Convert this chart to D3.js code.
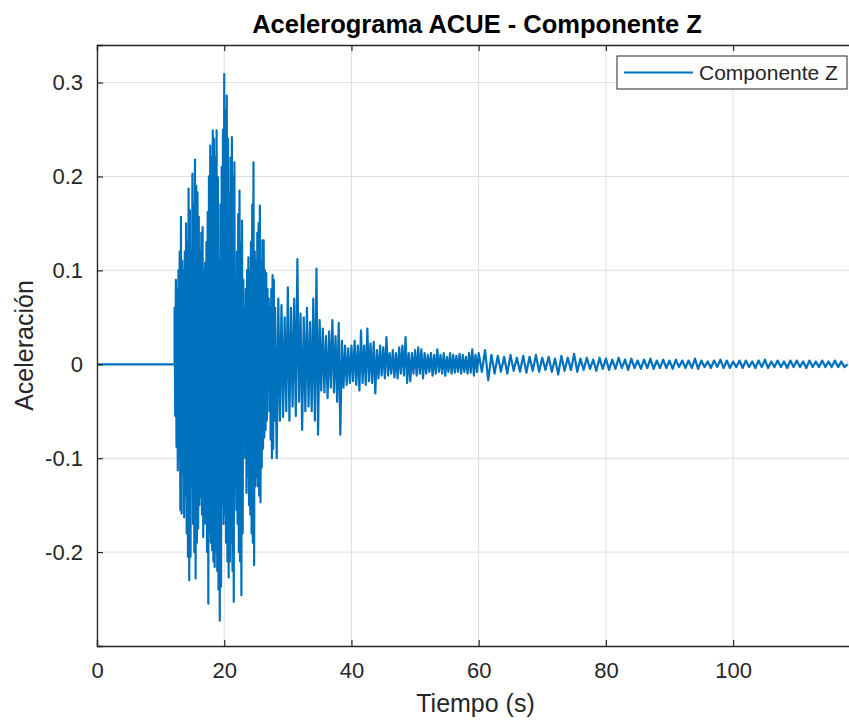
<!DOCTYPE html>
<html>
<head>
<meta charset="utf-8">
<script src="https://cdn.jsdelivr.net/npm/d3@7"></script>
<style>
  html, body { margin: 0; padding: 0; background: #fff; }
  svg { display: block; font-family: "Liberation Sans", Arial, Helvetica, sans-serif; }
</style>
</head>
<body>
<svg id="chart" width="849" height="722"></svg>
<script>
// ---------------- DATA ----------------
const titleText = "Acelerograma ACUE - Componente Z";
const xLabelText = "Tiempo (s)";
const yLabelText = "Aceleración";
const legendLabel = "Componente Z";

const xTicks = [0, 20, 40, 60, 80, 100];
const yTicks = [-0.2, -0.1, 0, 0.1, 0.2, 0.3];
const yTickLabels = ["-0.2", "-0.1", "0", "0.1", "0.2", "0.3"];

// pre-event (quiet) part
const preEventTimes = [0, 12.2];
const preEventValues = [0, 0];

// strong motion: positive peaks at start + i*step, negative peaks half a step later
const strongStart = 12.2, strongStep = 0.2;
const strongUpper = [0.06,0.09,0.08,0.10,0.12,0.157,0.11,0.10,0.12,0.15,0.13,0.187,0.164,0.12,0.203,0.17,0.218,0.19,0.183,0.157,
  0.12,0.14,0.146,0.10,0.108,0.13,0.162,0.20,0.233,0.22,0.249,0.24,0.22,0.249,0.199,0.11,0.17,0.21,0.25,0.309,
  0.27,0.286,0.24,0.182,0.22,0.242,0.20,0.215,0.06,0.12,0.16,0.185,0.13,0.153,0.09,0.06,0.08,0.10,0.114,0.10,
  0.13,0.17,0.215,0.12,0.11,0.14,0.15,0.169,0.11,0.132,0.132,0.10,0.097,0.08,0.07,0.06,0.08,0.095,0.09];
const strongLower = [-0.055,-0.088,-0.113,-0.10,-0.155,-0.159,-0.116,-0.163,-0.14,-0.18,-0.205,-0.23,-0.205,-0.131,-0.17,-0.20,-0.228,-0.19,-0.175,-0.15,
  -0.141,-0.16,-0.184,-0.17,-0.168,-0.20,-0.255,-0.18,-0.19,-0.198,-0.21,-0.216,-0.20,-0.22,-0.24,-0.273,-0.237,-0.15,-0.17,-0.16,
  -0.19,-0.21,-0.227,-0.21,-0.19,-0.22,-0.253,-0.13,-0.155,-0.17,-0.20,-0.21,-0.246,-0.18,-0.057,-0.10,-0.137,-0.12,-0.15,-0.16,
  -0.18,-0.19,-0.214,-0.13,-0.12,-0.13,-0.14,-0.147,-0.11,-0.09,-0.078,-0.07,-0.06,-0.024,-0.05,-0.08,-0.10,-0.09,-0.06];

// decaying coda
const codaStart = 28, codaStep = 0.5;
const codaUpper = [0.06,0.07,0.063,0.05,0.082,0.06,0.07,0.112,0.054,0.05,0.06,0.045,0.07,0.102,0.047,0.038,0.03,0.035,0.047,0.03,
  0.044,0.025,0.02,0.017,0.02,0.025,0.02,0.036,0.02,0.038,0.022,0.024,0.015,0.02,0.018,0.029,0.012,0.015,0.012,0.018,
  0.02,0.029,0.012,0.012,0.015,0.018,0.016,0.012,0.01,0.012,0.01,0.016,0.01,0.012,0.008,0.012,0.01,0.009,0.011,0.01,
  0.008,0.012,0.016,0.01];
const codaLower = [-0.10,-0.06,-0.056,-0.05,-0.06,-0.045,-0.055,-0.04,-0.07,-0.05,-0.045,-0.05,-0.06,-0.075,-0.028,-0.03,-0.036,-0.025,-0.03,-0.04,
  -0.075,-0.025,-0.022,-0.02,-0.018,-0.022,-0.028,-0.02,-0.022,-0.018,-0.02,-0.031,-0.015,-0.012,-0.015,-0.012,-0.01,-0.014,-0.015,-0.01,
  -0.012,-0.02,-0.018,-0.01,-0.012,-0.01,-0.015,-0.01,-0.008,-0.012,-0.01,-0.008,-0.01,-0.012,-0.008,-0.01,-0.009,-0.008,-0.01,-0.008,
  -0.01,-0.009,-0.012,-0.008];

// late tail
const tailStart = 60, tailStep = 1.0;
const tailUpper = [0.012,0.015,0.01,0.009,0.008,0.01,0.007,0.009,0.008,0.01,0.007,0.008,0.006,0.009,0.007,0.011,0.006,0.007,0.005,0.007,
  0.006,0.005,0.007,0.005,0.006,0.004,0.005,0.006,0.004,0.005,0.004,0.005,0.004,0.004,0.006,0.004,0.003,0.004,0.005,0.004,
  0.003,0.004,0.004,0.003,0.004,0.005,0.003,0.004,0.003,0.004,0.004,0.003,0.004,0.003,0.004,0.003,0.004,0.003];
const tailLower = [-0.008,-0.017,-0.01,-0.008,-0.01,-0.007,-0.008,-0.009,-0.007,-0.008,-0.006,-0.008,-0.011,-0.007,-0.006,-0.008,-0.006,-0.005,-0.007,-0.005,
  -0.006,-0.005,-0.004,-0.006,-0.004,-0.005,-0.004,-0.005,-0.004,-0.004,-0.005,-0.003,-0.004,-0.004,-0.005,-0.003,-0.004,-0.003,-0.004,-0.004,
  -0.003,-0.004,-0.003,-0.004,-0.003,-0.004,-0.003,-0.003,-0.004,-0.003,-0.003,-0.004,-0.003,-0.003,-0.003,-0.003,-0.003,-0.003];
const endTime = 118, endValue = 0;

// ---------------- BUILD SERIES ----------------
const points = [];
preEventTimes.forEach((t, i) => points.push([t, preEventValues[i]]));
function addPairs(start, step, up, low) {
  up.forEach((u, i) => {
    const t = start + i * step;
    points.push([t, u]);
    points.push([t + step / 2, low[i]]);
  });
}
addPairs(strongStart, strongStep, strongUpper, strongLower);
addPairs(codaStart, codaStep, codaUpper, codaLower);
addPairs(tailStart, tailStep, tailUpper, tailLower);
points.push([endTime, endValue]);

// ---------------- LAYOUT ----------------
const svg = d3.select("#chart");
const L = 97, R = 854, T = 45, B = 646;
const x = d3.scaleLinear().domain([0, 119]).range([L, R]);
const y = d3.scaleLinear().domain([-0.3, 0.34]).range([B, T]);
const axisColor = "#262626";
const lineColor = "#0072BD";

// grid
const grid = svg.append("g");
grid.selectAll("line.vx").data(xTicks).join("line")
  .attr("x1", d => x(d)).attr("x2", d => x(d)).attr("y1", T).attr("y2", B)
  .attr("stroke", "#dedede").attr("stroke-width", 1);
grid.selectAll("line.hy").data(yTicks).join("line")
  .attr("x1", L).attr("x2", R).attr("y1", d => y(d)).attr("y2", d => y(d))
  .attr("stroke", "#dedede").attr("stroke-width", 1);

// clip
svg.append("clipPath").attr("id", "plotclip").append("rect")
  .attr("x", L).attr("y", T).attr("width", R - L).attr("height", B - T);

// data line
const line = d3.line().x(d => x(d[0])).y(d => y(d[1]));
svg.append("path").datum(points)
  .attr("clip-path", "url(#plotclip)")
  .attr("d", line)
  .attr("fill", "none")
  .attr("stroke", lineColor)
  .attr("stroke-width", 2.2)
  .attr("stroke-linejoin", "round");

// axes (inward ticks, box)
const tickLen = 6;
const xAxisB = d3.axisBottom(x).tickValues(xTicks).tickSize(-tickLen).tickPadding(16).tickFormat(d3.format("d"));
const xAxisT = d3.axisTop(x).tickValues(xTicks).tickSize(-tickLen).tickFormat("");
const yAxisL = d3.axisLeft(y).tickValues(yTicks).tickSize(-tickLen).tickPadding(14).tickFormat((d, i) => yTickLabels[i]);

function styleAxis(g) {
  g.select(".domain").attr("stroke", axisColor).attr("stroke-width", 1.3);
  g.selectAll(".tick line").attr("stroke", axisColor).attr("stroke-width", 1.2);
  g.selectAll(".tick text").attr("fill", axisColor).style("font-size", "22px")
    .style("font-family", '"Liberation Sans", Arial, sans-serif');
}
svg.append("g").attr("transform", `translate(0,${B})`).call(xAxisB).call(styleAxis)
  .call(g => g.selectAll(".tick text").attr("dy", "0.71em"));
svg.append("g").attr("transform", `translate(0,${T})`).call(xAxisT).call(styleAxis);
svg.append("g").attr("transform", `translate(${L},0)`).call(yAxisL).call(styleAxis);

// title and labels
svg.append("text").attr("x", 477).attr("y", 33).attr("text-anchor", "middle")
  .style("font-size", "25.5px").style("font-weight", "bold").attr("fill", "#000")
  .text(titleText);
svg.append("text").attr("x", (L + R) / 2).attr("y", 712).attr("text-anchor", "middle")
  .style("font-size", "25px").attr("fill", axisColor).text(xLabelText);
svg.append("text").attr("transform", `translate(33,${(T + B) / 2}) rotate(-90)`)
  .attr("text-anchor", "middle").style("font-size", "25px").attr("fill", axisColor).text(yLabelText);

// legend
const lg = svg.append("g");
lg.append("rect").attr("x", 617).attr("y", 56).attr("width", 230).attr("height", 33)
  .attr("fill", "#fff").attr("stroke", axisColor).attr("stroke-width", 1);
lg.append("line").attr("x1", 624).attr("x2", 693).attr("y1", 72.5).attr("y2", 72.5)
  .attr("stroke", lineColor).attr("stroke-width", 2.2);
lg.append("text").attr("x", 699).attr("y", 80).style("font-size", "21px")
  .attr("fill", axisColor).text(legendLabel);
</script>
</body>
</html>
